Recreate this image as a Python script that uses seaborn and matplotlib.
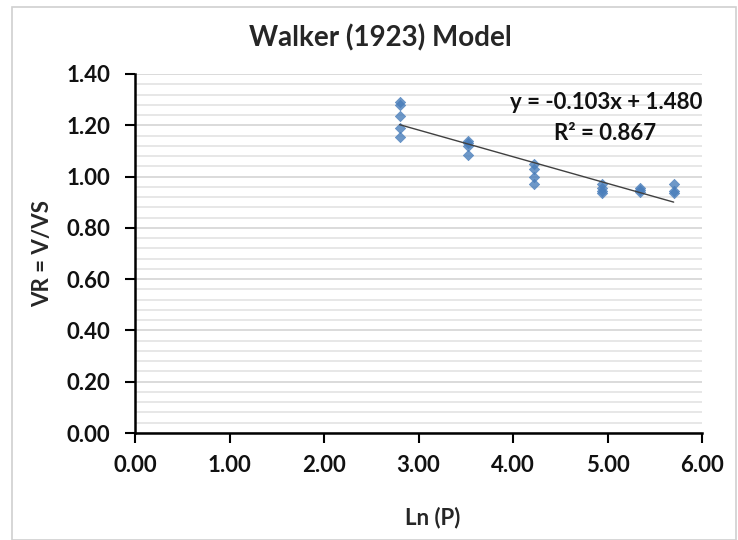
import numpy as np
import pandas as pd
import matplotlib
matplotlib.use("Agg")
import matplotlib.pyplot as plt
from matplotlib.ticker import MultipleLocator
import seaborn as sns

# Data
ln_p = [2.80, 2.80, 2.80, 2.80, 2.80,
        3.52, 3.52, 3.52, 3.52,
        4.22, 4.22, 4.22, 4.22,
        4.94, 4.94, 4.94, 4.94,
        5.34, 5.34, 5.34,
        5.70, 5.70, 5.70]
vr = [1.29, 1.28, 1.235, 1.19, 1.155,
      1.14, 1.13, 1.12, 1.085,
      1.05, 1.03, 1.00, 0.97,
      0.97, 0.955, 0.945, 0.935,
      0.955, 0.948, 0.94,
      0.97, 0.945, 0.935]
x_ticks = [0, 1, 2, 3, 4, 5, 6]
y_ticks = [0.0, 0.2, 0.4, 0.6, 0.8, 1.0, 1.2, 1.4]
title = "Walker (1923) Model"
eq_text = "y = -0.103x + 1.480"
r2_text = "R² = 0.867"

df = pd.DataFrame({"Ln (P)": ln_p, "VR": vr})

sns.set_theme(style="white")
plt.rcParams['font.family'] = ['Lato', 'DejaVu Sans']

fig = plt.figure(figsize=(7.38, 5.40), dpi=100)
ax = fig.add_axes([135/738, 1-433/540, (702-135)/738, (433-74)/540])

# Chart-area border
fig.patches.append(plt.Rectangle((12/738, 0.0), (736-12)/738, (538-5)/540,
                                 transform=fig.transFigure, fill=False,
                                 edgecolor="#d0d0d0", linewidth=1.2, zorder=0))

ax.set_xlim(0, 6)
ax.set_ylim(0, 1.4)
ax.yaxis.set_minor_locator(MultipleLocator(0.04))
ax.grid(which="major", axis="y", color="#d4d4d4", linewidth=1.2, zorder=0)
ax.grid(which="minor", axis="y", color="#e3e3e3", linewidth=1.2, zorder=0)
ax.set_axisbelow(True)

sns.regplot(data=df, x="Ln (P)", y="VR", ax=ax, ci=None, truncate=True, marker="D",
            scatter_kws=dict(s=28, color="#4a7ebb", edgecolor="#4a7ebb",
                             linewidths=0.5, zorder=3),
            line_kws=dict(color="#404040", linewidth=1.0, zorder=4))
ax.grid(which="major", axis="x", visible=False)

for s in ["top", "right"]:
    ax.spines[s].set_visible(False)
for s in ["left", "bottom"]:
    ax.spines[s].set_color("black")
    ax.spines[s].set_linewidth(1.8)

ax.xaxis.set_ticks_position("bottom")
ax.yaxis.set_ticks_position("left")
ax.set_xticks(x_ticks)
ax.set_xticklabels([f"{v:.2f}" for v in x_ticks], fontweight="bold")
ax.set_yticks(y_ticks)
ax.set_yticklabels([f"{v:.2f}" for v in y_ticks], fontweight="bold")
ax.tick_params(axis="both", which="major", direction="out", length=7, width=1.5,
               color="black", labelsize=16, labelcolor="#111111")
ax.tick_params(axis="y", which="major", pad=11)
ax.tick_params(axis="x", which="major", pad=9)
ax.tick_params(axis="y", which="minor", length=0)

ax.set_xlabel("Ln (P)", fontsize=16, fontweight="bold")
ax.set_ylabel("VR = V/VS", fontsize=16, fontweight="bold")
ax.xaxis.set_label_coords((433 - 135) / 567, (433 - 507) / 359)
ax.yaxis.set_label_coords((53 - 135) / 567, (433 - 254) / 359)

fig.text(380/738, 1-38/540, title, ha="center", va="center", fontsize=20, fontweight="bold")

ax.text(4.99, 1.288, eq_text, ha="center", va="center", fontsize=16, fontweight="bold",
        color="#111111")
ax.text(4.97, 1.167, r2_text, ha="center", va="center", fontsize=16, fontweight="bold",
        color="#111111")

fig.savefig("out.png", dpi=100)
